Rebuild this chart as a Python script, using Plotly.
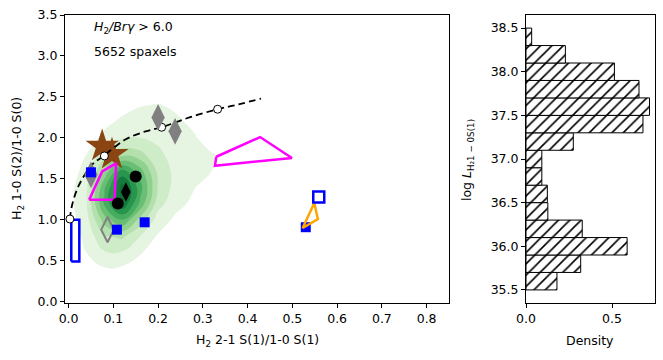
import plotly.graph_objects as go

# ---- data ----
# KDE of the spaxels, density levels estimated on a coarse grid
kde_x = [0.00, 0.04, 0.08, 0.12, 0.16, 0.20, 0.24, 0.28, 0.32, 0.36, 0.40]
kde_y = [0.2, 0.4, 0.6, 0.8, 1.0, 1.2, 1.4, 1.6, 1.8, 2.0, 2.2, 2.4, 2.6, 2.8]
kde_z = [
    [0.0, 0.0, 0.0, 0.0, 0.0, 0.0, 0.0, 0.0, 0.0, 0.0, 0.0],
    [0.0, 0.3, 0.9, 0.8, 0.3, 0.0, 0.0, 0.0, 0.0, 0.0, 0.0],
    [0.1, 1.0, 1.9, 1.9, 1.1, 0.4, 0.0, 0.0, 0.0, 0.0, 0.0],
    [0.3, 1.3, 2.9, 3.2, 2.0, 0.9, 0.3, 0.0, 0.0, 0.0, 0.0],
    [0.5, 1.6, 4.5, 6.0, 3.6, 1.5, 0.8, 0.2, 0.0, 0.0, 0.0],
    [0.6, 1.9, 6.2, 9.0, 5.8, 2.4, 1.3, 0.8, 0.2, 0.0, 0.0],
    [0.6, 1.8, 5.8, 9.5, 6.4, 2.9, 1.6, 1.05, 0.6, 0.1, 0.0],
    [0.4, 1.4, 4.2, 7.2, 5.4, 2.7, 1.7, 1.3, 1.0, 0.4, 0.0],
    [0.1, 1.0, 2.5, 3.6, 3.3, 2.2, 1.6, 1.3, 1.05, 0.8, 0.0],
    [0.0, 0.4, 1.3, 1.9, 2.0, 1.8, 1.4, 1.1, 0.6, 0.1, 0.0],
    [0.0, 0.1, 0.7, 1.2, 1.4, 1.35, 1.15, 0.8, 0.2, 0.0, 0.0],
    [0.0, 0.0, 0.2, 0.6, 0.95, 1.05, 0.85, 0.3, 0.0, 0.0, 0.0],
    [0.0, 0.0, 0.0, 0.1, 0.2, 0.2, 0.1, 0.0, 0.0, 0.0, 0.0],
    [0.0, 0.0, 0.0, 0.0, 0.0, 0.0, 0.0, 0.0, 0.0, 0.0, 0.0],
]

# thermal model curve and its marked points
curve_x = [0.003, 0.007, 0.022, 0.052, 0.078, 0.127, 0.172, 0.208, 0.27, 0.333, 0.38, 0.43]
curve_y = [1.01, 1.16, 1.41, 1.67, 1.78, 1.98, 2.08, 2.13, 2.25, 2.35, 2.41, 2.48]
model_x = [0.003, 0.08, 0.208, 0.333]
model_y = [1.01, 1.78, 2.13, 2.35]

star_x = [0.075, 0.097]
star_y = [1.90, 1.80]
gray_dia_x = [0.05, 0.20, 0.238]
gray_dia_y = [1.55, 2.25, 2.08]
open_dia_x = [0.087]
open_dia_y = [0.88]
black_dia_x = [0.128]
black_dia_y = [1.34]
black_dot_x = [0.11, 0.15]
black_dot_y = [1.20, 1.53]
blue_sq_x = [0.05, 0.108, 0.17, 0.53]
blue_sq_y = [1.58, 0.88, 0.97, 0.91]
open_sq_x = [0.559]
open_sq_y = [1.28]

rect_x = [0.006, 0.024, 0.024, 0.006, 0.006]
rect_y = [0.49, 0.49, 1.0, 1.0, 0.49]
mag1_x = [0.046, 0.075, 0.106, 0.103, 0.046]
mag1_y = [1.245, 1.59, 1.69, 1.245, 1.245]
mag2_x = [0.33, 0.428, 0.499, 0.327, 0.33]
mag2_y = [1.77, 2.01, 1.755, 1.66, 1.77]
orange_x = [0.549, 0.557, 0.523, 0.549]
orange_y = [1.205, 1.01, 0.90, 1.205]

# luminosity histogram
bin_centers = [35.6, 35.8, 36.0, 36.2, 36.4, 36.6, 36.8, 37.0,
               37.2, 37.4, 37.6, 37.8, 38.0, 38.2, 38.4]
density = [0.18, 0.318, 0.588, 0.327, 0.127, 0.124, 0.092, 0.092,
           0.275, 0.68, 0.718, 0.657, 0.514, 0.229, 0.033]

FONT = "DejaVu Sans"
W, H = 663, 360
TOP, BOT = 15, 303  # plot area in pixels


def px(x):
    return x / W


def py(y):
    return (BOT - y) / (BOT - TOP)


fig = go.Figure()

# band above level k gets the colour at (k - 0.5) / 9
band_colors = ["#eff8eb", "#dcf1d6", "#c2e6bb", "#a3da9e", "#7fc880",
               "#57b66a", "#35a155", "#1b8744", "#0b7135"]
greens = [[0.0, "white"], [0.03, "white"]]
for k, c in enumerate(band_colors, start=1):
    greens.append([(k - 0.5) / 9, c])
greens.append([1.0, band_colors[-1]])

fig.add_trace(go.Contour(x=kde_x, y=kde_y, z=kde_z, colorscale=greens,
                         contours=dict(start=1, end=9, size=1, coloring="fill"),
                         line=dict(width=0, smoothing=1.3), showscale=False,
                         hoverinfo="skip"))


def outline(xs, ys, color):
    fig.add_trace(go.Scatter(x=xs, y=ys, mode="lines",
                             line=dict(color=color, width=2.5)))


outline(rect_x, rect_y, "blue")

fig.add_trace(go.Scatter(x=star_x, y=star_y, mode="markers",
                         marker=dict(symbol="star", size=25, color="#8B4513",
                                     line=dict(width=0))))
fig.add_trace(go.Scatter(x=curve_x, y=curve_y, mode="lines",
                         line=dict(color="black", width=1.8, dash="7px,4px", shape="spline")))
fig.add_trace(go.Scatter(x=model_x, y=model_y, mode="markers",
                         marker=dict(symbol="circle", size=8, color="white",
                                     line=dict(color="black", width=1))))
fig.add_trace(go.Scatter(x=gray_dia_x, y=gray_dia_y, mode="markers",
                         marker=dict(symbol="diamond-tall", size=19, color="gray",
                                     line=dict(width=0))))
fig.add_trace(go.Scatter(x=open_dia_x, y=open_dia_y, mode="markers",
                         marker=dict(symbol="diamond-tall-open", size=18, color="gray",
                                     line=dict(color="gray", width=2))))
outline(mag1_x, mag1_y, "magenta")
outline(mag2_x, mag2_y, "magenta")
fig.add_trace(go.Scatter(x=black_dia_x, y=black_dia_y, mode="markers",
                         marker=dict(symbol="diamond-tall", size=14, color="black",
                                     line=dict(width=0))))
fig.add_trace(go.Scatter(x=black_dot_x, y=black_dot_y, mode="markers",
                         marker=dict(symbol="circle", size=12, color="black",
                                     line=dict(width=0))))
fig.add_trace(go.Scatter(x=blue_sq_x, y=blue_sq_y, mode="markers",
                         marker=dict(symbol="square", size=10, color="blue",
                                     line=dict(width=0))))
outline(orange_x, orange_y, "orange")
fig.add_trace(go.Scatter(x=open_sq_x, y=open_sq_y, mode="markers",
                         marker=dict(symbol="square-open", size=11, color="blue",
                                     line=dict(color="blue", width=2.5))))

fig.add_trace(go.Bar(x=density, y=bin_centers, orientation="h", width=0.2,
                     marker=dict(color="white", line=dict(color="black", width=1),
                                 pattern=dict(shape="/", fgcolor="black", fgopacity=1,
                                              size=8, solidity=0.2)),
                     xaxis="x2", yaxis="y2"))

axis_style = dict(showgrid=False, zeroline=False, showline=True, mirror=True,
                  linecolor="black", linewidth=1, ticks="outside", ticklen=4,
                  tickcolor="black", automargin=False,
                  tickfont=dict(family=FONT, size=12.5, color="black"))

fig.update_layout(
    width=W, height=H, showlegend=False,
    paper_bgcolor="white", plot_bgcolor="white",
    margin=dict(l=0, r=0, t=TOP, b=H - BOT, autoexpand=False),
    xaxis=dict(domain=[px(65), px(449)], range=[-0.008, 0.85], tick0=0, dtick=0.1,
               tickformat=".1f", **axis_style),
    yaxis=dict(range=[-0.015, 3.5], tick0=0, dtick=0.5, tickformat=".1f", **axis_style),
    xaxis2=dict(domain=[px(526), px(655)], range=[0, 0.75], tick0=0, dtick=0.5,
                tickformat=".1f", anchor="y2", **axis_style),
    yaxis2=dict(range=[35.35, 38.65], tick0=35.5, dtick=0.5, tickformat=".1f",
                anchor="x2", **axis_style),
)

txt = dict(family=FONT, size=12.5, color="black")


def label(text, x, y, anchor="center", angle=0):
    fig.add_annotation(text=text, x=px(x), y=py(y), xref="paper", yref="paper",
                       xanchor=anchor, yanchor="middle", textangle=angle,
                       showarrow=False, font=txt)


label("<i>H</i><sub>2</sub><i>/Brγ</i> > 6.0", 92, 28, anchor="left")
label("5652 spaxels", 92, 51, anchor="left")
label("H<sub>2</sub> 2-1 S(1)/1-0 S(1)", 257, 340)
label("H<sub>2</sub> 1-0 S(2)/1-0 S(0)", 17, 159, angle=-90)
label("Density", 590, 340)
label("log <i>L</i><sub>H₂1 − 0S(1)</sub>", 467, 160, angle=-90)

# page body has a default 8px margin; drop it so the figure sits at the origin
fig.write_html("out.html", config={"displayModeBar": False},
               post_script="document.body.style.margin='0';")
